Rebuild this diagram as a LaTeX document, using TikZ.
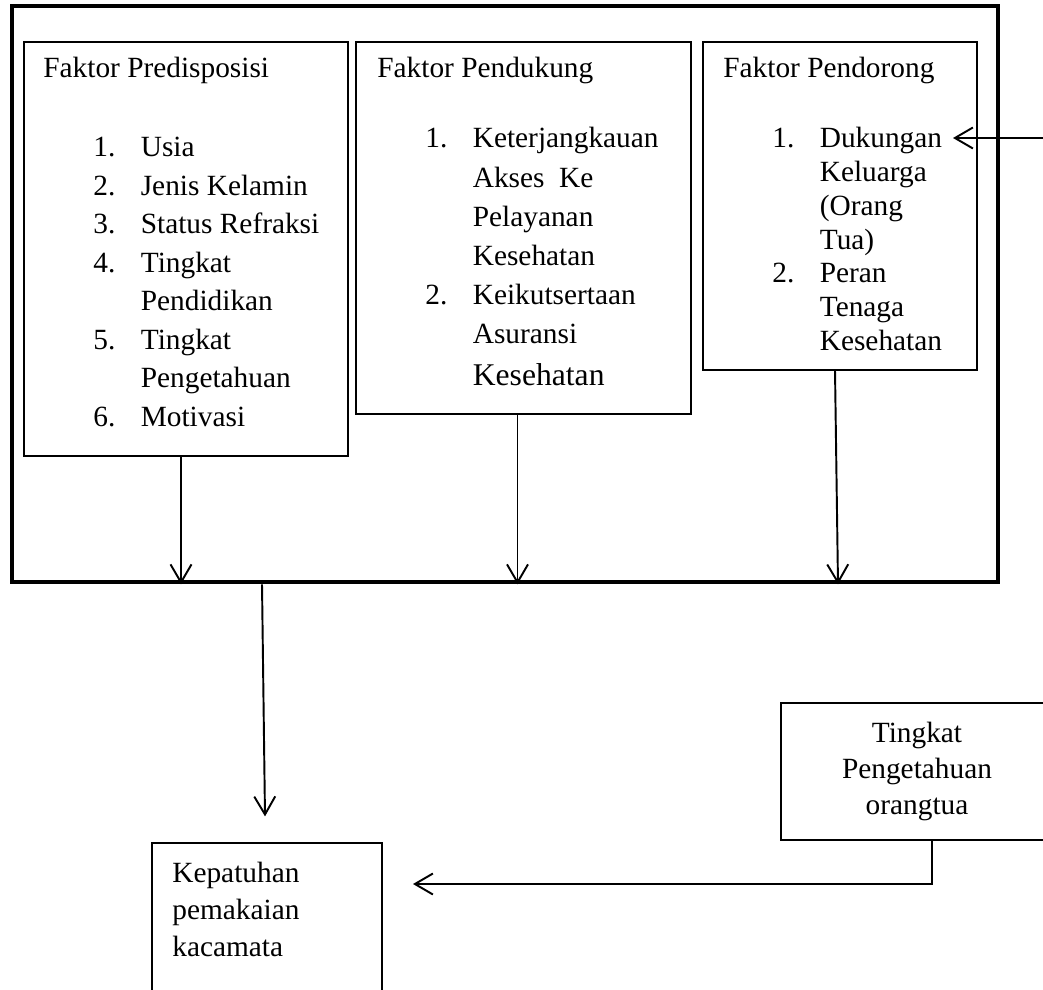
\documentclass[tikz,border=0pt]{standalone}
\usepackage{fontspec}
\setmainfont{Liberation Serif}
\usetikzlibrary{arrows.meta,fit}

\newcommand{\isi}{\fontsize{16.7}{21.9}\selectfont}

\begin{document}
\begin{tikzpicture}[
        x=0.02cm, y=-0.02cm,
        kotak/.style={draw, line width=0.7pt, inner sep=0pt},
        bingkai/.style={draw, line width=2.6pt, inner sep=0pt},
        judul/.style={anchor=base west, inner sep=0pt, font=\isi},
        daftar/.style={anchor=base west, inner sep=0pt, font=\isi},
        panah/.style={-{Straight Barb[length=3.6mm,width=4.2mm]}, line width=1.1pt}
    ]
        \useasboundingbox (0,0) rectangle (1043,989);
        \clip (0,0) rectangle (1043,989);

        % kerangka luar
        \node[bingkai, fit={(12,6) (998,582)}] (kerangka) {};

        % tiga faktor
        \node[kotak, fit={(24,42) (348,456)}] (predis) {};
        \node[kotak, fit={(356,42) (691,414)}] (dukung) {};
        \node[kotak, fit={(703,42) (977,370)}] (dorong) {};

        \node[judul] (tpredis) at (43,78) {Faktor Predisposisi};
        \node[judul] (tdukung) at (377,78) {Faktor Pendukung};
        \node[judul] (tdorong) at (723,78) {Faktor Pendorong};

        \node[daftar] (ipredis) at (93,157) {\begin{tabular}[t]{@{}p{9.5mm}@{}l@{}}
            1. & Usia\\
            2. & Jenis Kelamin\\
            3. & Status Refraksi\\
            4. & Tingkat\\
               & Pendidikan\\
            5. & Tingkat\\
               & Pengetahuan\\
            6. & Motivasi
        \end{tabular}};

        \node[daftar, font=\fontsize{16.7}{22.2}\selectfont] (idukung) at (425,148) {\begin{tabular}[t]{@{}p{9.5mm}@{}l@{}}
            1. & Keterjangkauan\\
               & Akses~ Ke\\
               & Pelayanan\\
               & Kesehatan\\
            2. & Keikutsertaan\\
               & Asuransi\\[0.6mm]
               & {\fontsize{18}{22}\selectfont Kesehatan}
        \end{tabular}};

        \node[daftar, font=\fontsize{16.7}{19.2}\selectfont] (idorong) at (772,148) {\begin{tabular}[t]{@{}p{9.5mm}@{}l@{}}
            1. & Dukungan\\
               & Keluarga\\
               & (Orang\\
               & Tua)\\
            2. & Peran\\
               & Tenaga\\
               & Kesehatan
        \end{tabular}};

        % kotak bawah
        \node[kotak, fit={(152,843) (382,1010)}] (patuh) {};
        \node[daftar, font=\fontsize{16.7}{21.3}\selectfont] (tpatuh) at (172,882) {\begin{tabular}[t]{@{}l@{}}
            Kepatuhan\\ pemakaian\\ kacamata
        \end{tabular}};

        \node[kotak, fit={(781,703) (1053,840)}] (ortu) {};
        \node[daftar, anchor=base, font=\fontsize{16.7}{20.7}\selectfont] (tortu) at (917,742) {\begin{tabular}[t]{@{}c@{}}
            Tingkat\\ Pengetahuan\\ orangtua
        \end{tabular}};

        % panah
        \draw[panah] ([xshift=-1mm]predis.south) -- ([xshift=-1mm]predis.south |- kerangka.south);
        \draw[panah] ([xshift=-1.2mm]dukung.south) -- ([xshift=-1.2mm]dukung.south |- kerangka.south);
        \draw[panah] ([xshift=-1mm]dorong.south) -- ([xshift=-0.4mm]dorong.south |- kerangka.south);

        \draw[panah] ([xshift=-1mm]kerangka.south -| patuh.north) -- ([xshift=-0.4mm,yshift=5.2mm]patuh.north);

        \coordinate (masuk) at (413,884);
        \draw[panah] ([xshift=3mm]ortu.south) |- (masuk);

        \coordinate (luar) at (1060,138);
        \coordinate (ujung) at (953,138);
        \draw[panah] (luar) -- (ujung);

    \end{tikzpicture}
\end{document}
